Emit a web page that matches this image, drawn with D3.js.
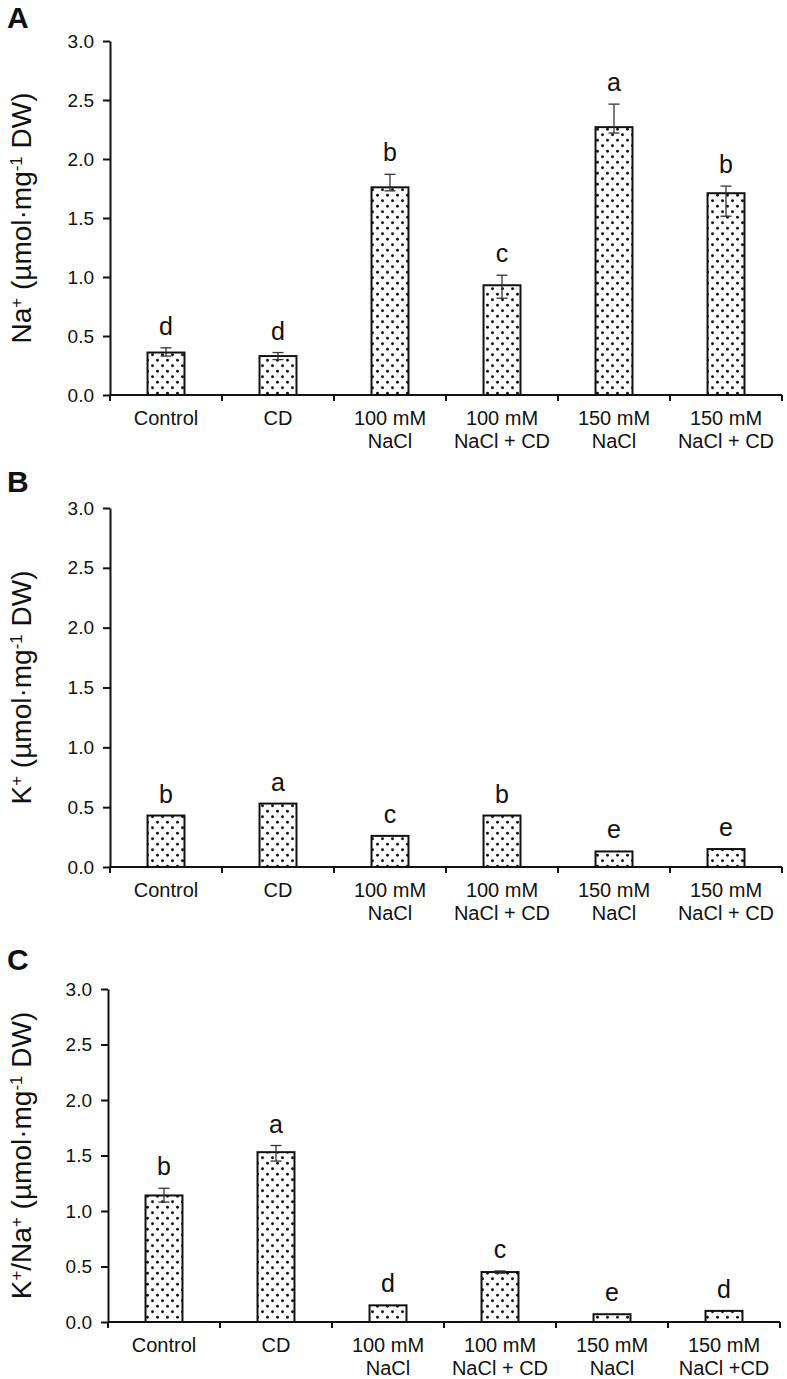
<!DOCTYPE html>
<html>
<head>
<meta charset="utf-8">
<script src="https://cdn.jsdelivr.net/npm/d3@7"></script>
<style>
  body { margin: 0; background: #fff; }
  svg { display: block; font-family: "Liberation Sans", Arial, sans-serif; }
</style>
</head>
<body>
<svg id="chart" width="787" height="1379"></svg>
<script>
// categories (two lines each), one list per panel because panel C is typed slightly differently
var catsAB = [["Control"], ["CD"], ["100 mM", "NaCl"], ["100 mM", "NaCl + CD"], ["150 mM", "NaCl"], ["150 mM", "NaCl + CD"]];
var catsC = [["Control"], ["CD"], ["100 mM", "NaCl"], ["100 mM", "NaCl + CD"], ["150 mM", "NaCl"], ["150 mM", "NaCl +CD"]];
var yTicks = [0, 0.5, 1.0, 1.5, 2.0, 2.5, 3.0];

// panel A: Na+
var naValues = [0.36, 0.33, 1.76, 0.93, 2.27, 1.71];
var naErrUp = [0.04, 0.03, 0.11, 0.085, 0.195, 0.06];
var naErrDown = [0.03, 0.03, 0.03, 0.11, 0.05, 0.195];
var naLetters = ["d", "d", "b", "c", "a", "b"];

// panel B: K+
var kValues = [0.43, 0.53, 0.26, 0.43, 0.13, 0.15];
var kErrUp = [0, 0, 0, 0, 0, 0];
var kErrDown = [0, 0, 0, 0, 0, 0];
var kLetters = ["b", "a", "c", "b", "e", "e"];

// panel C: K+/Na+
var ratioValues = [1.14, 1.53, 0.15, 0.45, 0.07, 0.10];
var ratioErrUp = [0.065, 0.06, 0, 0.01, 0, 0];
var ratioErrDown = [0.06, 0.08, 0, 0.01, 0, 0];
var ratioLetters = ["b", "a", "d", "c", "e", "d"];

var svg = d3.select("#chart");

// dotted fill used by every bar
var defs = svg.append("defs");
var pat = defs.append("pattern")
    .attr("id", "dots")
    .attr("patternUnits", "userSpaceOnUse")
    .attr("width", 10)
    .attr("height", 11);
pat.append("rect").attr("width", 10).attr("height", 11).attr("fill", "#fff");
pat.append("circle").attr("cx", 2.5).attr("cy", 2.8).attr("r", 1.45).attr("fill", "#111");
pat.append("circle").attr("cx", 7.5).attr("cy", 8.3).attr("r", 1.45).attr("fill", "#111");

function drawPanel(p) {
    var g = svg.append("g");

    var x = d3.scaleBand()
        .domain(d3.range(p.cats.length))
        .range([p.left, p.right])
        .padding(0);
    var y = d3.scaleLinear().domain([0, 3]).range([p.bottom, p.top]);

    var bw = x.bandwidth() * 0.33;

    // bars
    g.selectAll("rect.bar")
        .data(p.values)
        .enter()
        .append("rect")
        .attr("class", "bar")
        .attr("x", function (d, i) { return x(i) + (x.bandwidth() - bw) / 2; })
        .attr("y", function (d) { return y(d); })
        .attr("width", bw)
        .attr("height", function (d) { return y(0) - y(d); })
        .attr("fill", "url(#dots)")
        .attr("stroke", "#111")
        .attr("stroke-width", 2);

    // error bars
    var capW = 11;
    p.values.forEach(function (v, i) {
        if (!p.errUp[i] && !p.errDown[i]) return;
        var cx = x(i) + x.bandwidth() / 2;
        var hi = y(v + p.errUp[i]);
        var lo = y(v - p.errDown[i]);
        g.append("line")
            .attr("x1", cx).attr("x2", cx)
            .attr("y1", hi).attr("y2", lo)
            .attr("stroke", "#333").attr("stroke-width", 1.3);
        g.append("line")
            .attr("x1", cx - capW / 2).attr("x2", cx + capW / 2)
            .attr("y1", hi).attr("y2", hi)
            .attr("stroke", "#333").attr("stroke-width", 1.3);
        if (p.errDown[i]) {
            g.append("line")
                .attr("x1", cx - capW / 2).attr("x2", cx + capW / 2)
                .attr("y1", lo).attr("y2", lo)
                .attr("stroke", "#333").attr("stroke-width", 1.3);
        }
    });

    // significance letters
    g.selectAll("text.sig")
        .data(p.values)
        .enter()
        .append("text")
        .attr("class", "sig")
        .attr("x", function (d, i) { return x(i) + x.bandwidth() / 2; })
        .attr("y", function (d, i) { return y(d + p.errUp[i]) - 13; })
        .attr("text-anchor", "middle")
        .attr("font-size", 25)
        .attr("fill", "#111")
        .text(function (d, i) { return p.letters[i]; });

    // y axis
    var yAxis = d3.axisLeft(y)
        .tickValues(yTicks)
        .tickFormat(d3.format(".1f"))
        .tickSize(7)
        .tickSizeOuter(0)
        .tickPadding(9);
    var ya = g.append("g")
        .attr("transform", "translate(" + p.left + ",0)")
        .call(yAxis);
    ya.select(".domain").attr("stroke", "#111").attr("stroke-width", 2);
    ya.selectAll(".tick line").attr("stroke", "#111").attr("stroke-width", 2);
    ya.selectAll(".tick text")
        .attr("font-size", 19)
        .attr("font-family", "'Liberation Sans', Arial, sans-serif")
        .attr("fill", "#111");

    // x axis line with ticks at category boundaries
    g.append("line")
        .attr("x1", p.left).attr("x2", p.right)
        .attr("y1", y(0)).attr("y2", y(0))
        .attr("stroke", "#111").attr("stroke-width", 2);
    var bounds = d3.range(p.cats.length).map(function (i) { return x(i); }).concat([p.right]);
    g.selectAll("line.xtick")
        .data(bounds)
        .enter()
        .append("line")
        .attr("class", "xtick")
        .attr("x1", function (d) { return d; })
        .attr("x2", function (d) { return d; })
        .attr("y1", y(0))
        .attr("y2", y(0) + 6)
        .attr("stroke", "#111").attr("stroke-width", 2);

    // category labels
    var lab = g.selectAll("text.cat")
        .data(p.cats)
        .enter()
        .append("text")
        .attr("class", "cat")
        .attr("text-anchor", "middle")
        .attr("font-size", 20)
        .attr("fill", "#111");
    lab.selectAll("tspan")
        .data(function (d, i) { return d.map(function (s) { return { s: s, i: i }; }); })
        .enter()
        .append("tspan")
        .attr("x", function (d) { return x(d.i) + x.bandwidth() / 2; })
        .attr("y", function (d, j) { return y(0) + 30 + j * 23; })
        .text(function (d) { return d.s; });

    // y axis title
    var mid = (p.top + p.bottom) / 2;
    var t = g.append("text")
        .attr("transform", "translate(31," + mid + ") rotate(-90)")
        .attr("text-anchor", "middle")
        .attr("font-size", 28)
        .attr("fill", "#111");
    p.title.forEach(function (part) {
        var ts = t.append("tspan").text(part.s);
        if (part.sup) ts.attr("font-size", 17).attr("baseline-shift", "super");
    });

    // panel letter
    g.append("text")
        .attr("x", 7)
        .attr("y", p.letterY)
        .attr("font-size", 30)
        .attr("font-weight", "bold")
        .attr("fill", "#111")
        .text(p.letter);
}

drawPanel({
    letter: "A", letterY: 28,
    left: 110, right: 782, top: 41, bottom: 395,
    cats: catsAB, values: naValues, errUp: naErrUp, errDown: naErrDown, letters: naLetters,
    title: [{ s: "Na" }, { s: "+", sup: true }, { s: " (µmol·mg" }, { s: "-1", sup: true }, { s: " DW)" }]
});

drawPanel({
    letter: "B", letterY: 492,
    left: 110, right: 782, top: 508, bottom: 867,
    cats: catsAB, values: kValues, errUp: kErrUp, errDown: kErrDown, letters: kLetters,
    title: [{ s: "K" }, { s: "+", sup: true }, { s: " (µmol·mg" }, { s: "-1", sup: true }, { s: " DW)" }]
});

drawPanel({
    letter: "C", letterY: 970,
    left: 108, right: 780, top: 989, bottom: 1322,
    cats: catsC, values: ratioValues, errUp: ratioErrUp, errDown: ratioErrDown, letters: ratioLetters,
    title: [{ s: "K" }, { s: "+", sup: true }, { s: "/Na" }, { s: "+", sup: true }, { s: " (µmol·mg" }, { s: "-1", sup: true }, { s: " DW)" }]
});
</script>
</body>
</html>
